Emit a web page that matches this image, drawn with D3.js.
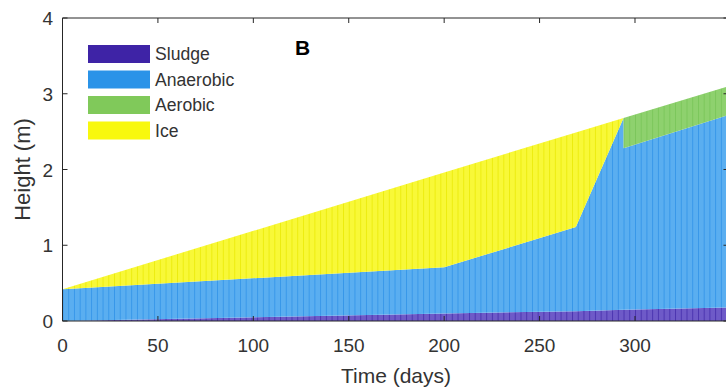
<!DOCTYPE html>
<html lang="en">
<head>
<meta charset="UTF-8">
<title>Height over time</title>
<script src="https://cdn.jsdelivr.net/npm/d3@7"></script>
<style>
  body { margin: 0; background: #fff; }
  svg { display: block; font-family: "Liberation Sans", Arial, sans-serif; }
</style>
</head>
<body>
<svg id="chart" width="726" height="390"></svg>
<script>
// keyframe days (294 appears twice: the aerobic layer starts with a vertical step)
var days      = [0,    200,  269,  294,  294,  349];
var sludge    = [0,    0.10, 0.13, 0.15, 0.15, 0.18];
var anaerobic = [0.42, 0.61, 1.11, 2.53, 2.13, 2.54];
var aerobic   = [0,    0,    0,    0,    0.40, 0.38];
var ice       = [0,    1.25, 1.25, 0,    0,    0];

var layerNames = ["Sludge", "Anaerobic", "Aerobic", "Ice"];
var xTicks = [0, 50, 100, 150, 200, 250, 300];
var yTicks = [0, 1, 2, 3, 4];

var fillCol   = {Sludge: "#6e5ac8", Anaerobic: "#5aaef0", Aerobic: "#8ed16e", Ice: "#f8f838"};
var edgeCol   = {Sludge: "#3e26a8", Anaerobic: "#2a8fe6", Aerobic: "#74c254", Ice: "#e8e800"};
var legendCol = {Sludge: "#3e23a6", Anaerobic: "#2a93e8", Aerobic: "#80c95a", Ice: "#f8f80e"};

var svg = d3.select("#chart");
var mLeft = 62.5, mRight = 728.5, mTop = 18, mBottom = 321;

var x = d3.scaleLinear().domain([0, 349]).range([mLeft, mRight]);
var y = d3.scaleLinear().domain([0, 4]).range([mBottom, mTop]);

var rows = days.map(function(d, i) {
  return {day: d, Sludge: sludge[i], Anaerobic: anaerobic[i], Aerobic: aerobic[i], Ice: ice[i]};
});
var series = d3.stack().keys(layerNames)(rows);

// bar edge texture (the original is many thin bars)
var defs = svg.append("defs");
var step = x(3) - x(0);
layerNames.forEach(function(k) {
  var p = defs.append("pattern")
    .attr("id", "pat-" + k)
    .attr("patternUnits", "userSpaceOnUse")
    .attr("x", mLeft).attr("y", 0)
    .attr("width", step).attr("height", 10);
  p.append("rect").attr("width", step).attr("height", 10).attr("fill", fillCol[k]);
  p.append("rect").attr("x", 0).attr("width", 1).attr("height", 10)
    .attr("fill", edgeCol[k]).attr("opacity", 0.75);
});

var area = d3.area()
  .x(function(d) { return x(d.data.day); })
  .y0(function(d) { return y(d[0]); })
  .y1(function(d) { return y(d[1]); });

svg.append("g").selectAll("path")
  .data(series)
  .enter()
  .append("path")
  .attr("d", area)
  .attr("fill", function(d) { return "url(#pat-" + d.key + ")"; });

// axes box
var axisCol = "#262626";
var axes = svg.append("g").attr("stroke", axisCol).attr("stroke-width", 1).attr("fill", "none");
axes.append("path").attr("d", "M" + mLeft + "," + mTop + "V" + mBottom + "H" + mRight);
axes.append("path").attr("d", "M" + mLeft + "," + mTop + "H" + mRight + "V" + mBottom);

var tickLen = 5;
xTicks.forEach(function(t) {
  axes.append("line").attr("x1", x(t)).attr("x2", x(t)).attr("y1", mBottom).attr("y2", mBottom - tickLen);
  axes.append("line").attr("x1", x(t)).attr("x2", x(t)).attr("y1", mTop).attr("y2", mTop + tickLen);
});
yTicks.forEach(function(t) {
  axes.append("line").attr("x1", mLeft).attr("x2", mLeft + tickLen).attr("y1", y(t)).attr("y2", y(t));
  axes.append("line").attr("x1", mRight).attr("x2", mRight - tickLen).attr("y1", y(t)).attr("y2", y(t));
});

// tick labels
var txtCol = "#333";
svg.append("g").selectAll("text")
  .data(xTicks)
  .enter()
  .append("text")
  .attr("x", function(d) { return x(d); })
  .attr("y", 352)
  .attr("text-anchor", "middle")
  .attr("font-size", 19)
  .attr("fill", txtCol)
  .text(function(d) { return d; });

svg.append("g").selectAll("text")
  .data(yTicks)
  .enter()
  .append("text")
  .attr("x", 53)
  .attr("y", function(d) { return y(d) + 7; })
  .attr("text-anchor", "end")
  .attr("font-size", 19)
  .attr("fill", txtCol)
  .text(function(d) { return d; });

svg.append("text")
  .attr("x", 396)
  .attr("y", 383)
  .attr("text-anchor", "middle")
  .attr("font-size", 21)
  .attr("fill", txtCol)
  .text("Time (days)");

svg.append("text")
  .attr("transform", "translate(30," + ((mTop + mBottom) / 2) + ") rotate(-90)")
  .attr("text-anchor", "middle")
  .attr("font-size", 22)
  .attr("fill", txtCol)
  .text("Height (m)");

// panel letter
svg.append("text")
  .attr("x", 295).attr("y", 55)
  .attr("font-size", 21).attr("font-weight", "bold")
  .attr("fill", "#000")
  .text("B");

// legend
var lg = svg.append("g").selectAll("g")
  .data(layerNames)
  .enter()
  .append("g")
  .attr("transform", function(d, i) { return "translate(88," + (45 + i * 25.5) + ")"; });
lg.append("rect")
  .attr("width", 62).attr("height", 18)
  .attr("fill", function(d) { return legendCol[d]; });
lg.append("text")
  .attr("x", 67).attr("y", 15)
  .attr("font-size", 17.6)
  .attr("fill", txtCol)
  .text(function(d) { return d; });
</script>
</body>
</html>
